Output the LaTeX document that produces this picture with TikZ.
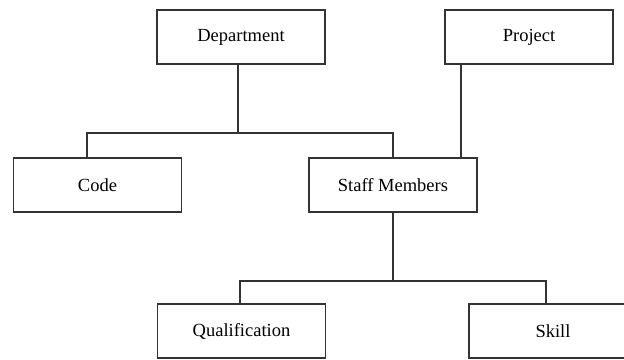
\documentclass[tikz,border=0pt]{standalone}
\usepackage{fontspec}
\setmainfont{Liberation Serif}
\begin{document}
\begin{tikzpicture}[x=1pt,y=-1pt,
  entity/.style={draw=black!80, line width=1.4pt, fill=white,
    minimum width=168pt, minimum height=54pt, inner sep=0pt,
    font=\fontsize{18.5}{22}\selectfont},
  link/.style={draw=black!80, line width=1.4pt}]
  \useasboundingbox (0,0) rectangle (624,359);
  \clip (0,0) rectangle (624,359);

  % entities
  \node[entity] (dept)  at (241,37)    {Department};
  \node[entity] (proj)  at (529,37)    {Project};
  \node[entity] (code)  at (97.5,185)  {Code};
  \node[entity] (staff) at (393,185)   {Staff Members};
  \node[entity] (qual)  at (241.5,331) {Qualification};
  \node[entity] (skill) at (553,331)   {Skill};

  % junctions of the branch bars
  \coordinate (barA) at (238,133);
  \coordinate (barB) at (393,281);

  % Department -> Code, Staff Members
  \draw[link] ([xshift=-3pt]dept.south) -- (barA);
  \draw[link] ([xshift=-10.5pt]code.north) |- (barA) -| (staff.north);

  % Project -> Staff Members
  \draw[link] ([xshift=-68pt]proj.south) -- ([xshift=68pt]staff.north);

  % Staff Members -> Qualification, Skill
  \draw[link] (staff.south) -- (barB);
  \draw[link] ([xshift=-1.5pt]qual.north) |- (barB) -| ([xshift=-7pt]skill.north);
\end{tikzpicture}
\end{document}
